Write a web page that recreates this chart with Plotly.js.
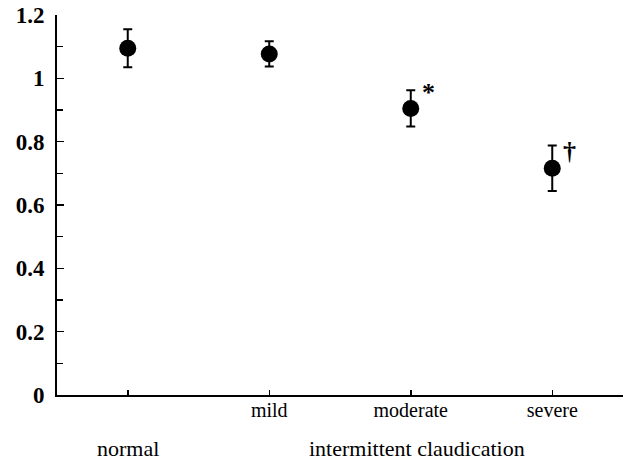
<!DOCTYPE html>
<html>
<head>
<meta charset="utf-8">
<script src="https://cdn.plot.ly/plotly-3.0.1.min.js"></script>
<style>html,body{margin:0;padding:0;background:#fff;}#chart{width:629px;height:463px;}</style>
</head>
<body>
<div id="chart"></div>
<script>
const categories = ['normal', 'mild', 'moderate', 'severe'];
const positions = [1, 2, 3, 4];
const tickLabels = ['', 'mild', 'moderate', 'severe'];
const means = [1.095, 1.077, 0.905, 0.716];
const errors = [0.06, 0.04, 0.057, 0.072];
const marks = ['', '', '*', '†'];
const groupLabel = 'intermittent claudication';

const serif = 'Liberation Serif';

const trace = {
  type: 'scatter',
  mode: 'markers',
  x: positions,
  y: means,
  marker: {color: '#000', size: 17},
  error_y: {type: 'data', array: errors, visible: true, color: '#000', thickness: 2, width: 4.5},
  hoverinfo: 'x+y',
  showlegend: false
};

const annotations = [];
positions.forEach((p, i) => {
  if (marks[i]) {
    const isStar = marks[i] === '*';
    annotations.push({
      x: p, y: means[i] + errors[i], xref: 'x', yref: 'y',
      text: marks[i], showarrow: false,
      xanchor: 'left', yanchor: 'middle', xshift: 9, yshift: isStar ? -2 : -6,
      font: {family: serif, size: 26, color: '#000', weight: 'bold'}
    });
  }
});
annotations.push({
  x: positions[0], y: 0, xref: 'x', yref: 'paper', yshift: -53,
  text: categories[0], showarrow: false, xanchor: 'center', yanchor: 'middle',
  font: {family: serif, size: 22, color: '#000'}
});
annotations.push({
  x: positions[2], y: 0, xref: 'x', yref: 'paper', yshift: -53, xshift: 6,
  text: groupLabel, showarrow: false, xanchor: 'center', yanchor: 'middle',
  font: {family: serif, size: 22, color: '#000'}
});

const layout = {
  width: 629, height: 463,
  margin: {l: 57, r: 6, t: 15, b: 68},
  paper_bgcolor: '#fff', plot_bgcolor: '#fff',
  font: {family: serif, color: '#000'},
  xaxis: {
    range: [0.5, 4.5], tickvals: positions, ticktext: tickLabels,
    showgrid: false, zeroline: false,
    showline: true, linecolor: '#000', linewidth: 2,
    ticks: 'inside', ticklen: 5, tickwidth: 1.5, tickcolor: '#000',
    ticklabelstandoff: -4,
    tickfont: {family: serif, size: 20, color: '#000'}
  },
  yaxis: {
    range: [0, 1.2], dtick: 0.2, tick0: 0,
    showgrid: false, zeroline: false,
    showline: true, linecolor: '#000', linewidth: 2,
    ticks: 'inside', ticklen: 7, tickwidth: 1.5, tickcolor: '#000',
    ticklabelstandoff: 6,
    minor: {dtick: 0.1, tick0: 0, ticks: 'inside', ticklen: 6, tickwidth: 1.5, tickcolor: '#000', showgrid: false},
    tickfont: {family: serif, size: 23, color: '#000', weight: 'bold'}
  },
  annotations: annotations
};

Plotly.newPlot('chart', [trace], layout, {displayModeBar: false, staticPlot: true});
</script>
</body>
</html>
